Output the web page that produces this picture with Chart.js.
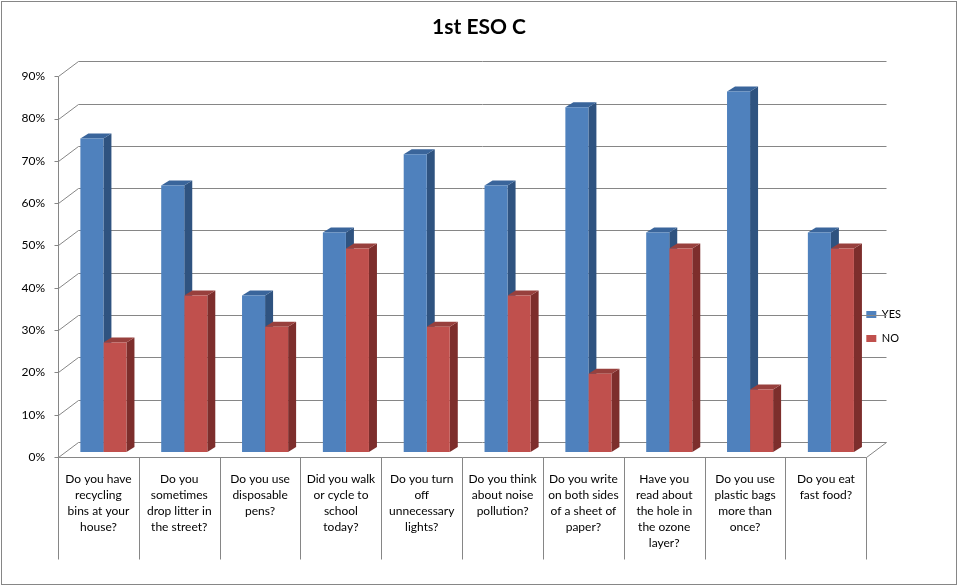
<!DOCTYPE html>
<html><head><meta charset="utf-8">
<style>html,body{margin:0;padding:0;background:#fff}canvas{display:block}</style>
<script src="https://cdn.jsdelivr.net/npm/chart.js@4/dist/chart.umd.js"></script>
</head><body><canvas id="c" width="958" height="586"></canvas>
<script>
const categories=[
 ["Do you have","recycling","bins at your","house?"],
 ["Do you","sometimes","drop litter in","the street?"],
 ["Do you use","disposable","pens?"],
 ["Did you walk","or cycle to","school","today?"],
 ["Do you turn","off","unnecessary","lights?"],
 ["Do you think","about noise","pollution?"],
 ["Do you write","on both sides","of a sheet of","paper?"],
 ["Have you","read about","the hole in","the ozone","layer?"],
 ["Do you use","plastic bags","more than","once?"],
 ["Do you eat","fast food?"]
];
const yesValues=[74.1,63,37,51.9,70.4,63,81.5,51.9,85.2,51.9];
const noValues=[25.9,37,29.6,48.1,29.6,37,18.5,48.1,14.8,48.1];
const FONT='Lato, Carlito, sans-serif';
const GRID='#868686';
const wallDx=20,wallDy=15,barDx=5,barDy=5,sideDx=8,sideDy=5;
const sideColors=[{side:'#2f5380',top:'#3a659b'},{side:'#7d2e2c',top:'#98403d'}];
function poly(ctx,pts,fill){ctx.beginPath();pts.forEach((p,i)=>i?ctx.lineTo(p[0],p[1]):ctx.moveTo(p[0],p[1]));ctx.closePath();ctx.fillStyle=fill;ctx.fill();}
const frame3d={
 id:'frame3d',
 afterLayout(chart){
  const t=chart.titleBlock;t.left=0;t.right=chart.width;
  const l=chart.legend;
  l.left-=13;l.right-=13;l.top+=47;l.bottom+=47;
 },
 beforeDraw(chart){
  const c=chart.ctx,{width,height}=chart;
  c.save();c.strokeStyle=GRID;c.lineWidth=1;c.strokeRect(1.5,1.5,width-3,height-3);c.restore();
 },
 beforeDatasetsDraw(chart){
  const c=chart.ctx,a=chart.chartArea,y=chart.scales.y,x=chart.scales.x;
  c.save();c.strokeStyle=GRID;c.lineWidth=1;
  const L=Math.round(a.left)+.5,R=Math.round(a.right)+.5,B=Math.round(a.bottom)+.5,T=Math.round(a.top)+.5;
  c.beginPath();
  y.ticks.forEach(t=>{
   const p=Math.round(y.getPixelForValue(t.value))+.5;
   c.moveTo(L-4,p);c.lineTo(L,p);c.lineTo(L+wallDx,p-wallDy);c.lineTo(R+wallDx,p-wallDy);
  });
  c.moveTo(L,T);c.lineTo(L,B);c.lineTo(R,B);c.lineTo(R+wallDx,B-wallDy);
  const n=categories.length;
  for(let i=0;i<=n;i++){
   const px=Math.round(x.getPixelForValue(i-.5))+.5;
   c.moveTo(px,B);c.lineTo(px,B+102);
  }
  c.stroke();c.restore();
  c.save();c.translate(barDx,-barDy);
  chart.data.datasets.forEach((d,di)=>{
   chart.getDatasetMeta(di).data.forEach(b=>{
    const l=b.x-b.width/2,r=b.x+b.width/2,t=b.y,bt=b.base,col=sideColors[di];
    poly(c,[[r,t],[r+sideDx,t-sideDy],[r+sideDx,bt-sideDy],[r,bt]],col.side);
    poly(c,[[l,t],[l+sideDx,t-sideDy],[r+sideDx,t-sideDy],[r,t]],col.top);
   });
  });
 },
 afterDatasetsDraw(chart){chart.ctx.restore();}
};
new Chart(document.getElementById('c'),{
 type:'bar',
 data:{labels:categories,datasets:[
  {label:'YES',data:yesValues,backgroundColor:'#4f81bd',clip:false},
  {label:'NO',data:noValues,backgroundColor:'#c0504d',clip:false}
 ]},
 plugins:[frame3d],
 options:{
  responsive:false,animation:false,devicePixelRatio:1,
  layout:{padding:{left:0,right:34,top:0,bottom:27}},
  datasets:{bar:{categoryPercentage:.57,barPercentage:1}},
  scales:{
   x:{grid:{display:false},border:{display:false},
      afterFit(s){s.height=102},
      ticks:{autoSkip:false,maxRotation:0,minRotation:0,padding:6,color:'#000',font:{family:FONT,size:12,lineHeight:16/12}}},
   y:{min:0,max:90,grid:{display:false},border:{display:false},
      afterFit(s){s.width=58},
      ticks:{stepSize:10,padding:5,color:'#000',font:{family:FONT,size:12},callback:v=>v+'%'}}
  },
  plugins:{
   title:{display:true,text:'1st ESO C',color:'#000',font:{family:FONT,size:21,weight:'bold',lineHeight:1.2},padding:{top:15,bottom:36}},
   legend:{position:'right',align:'center',labels:{boxWidth:10,boxHeight:7,padding:13,color:'#000',font:{family:FONT,size:11}}},
   tooltip:{enabled:false}
  }
 }
});
</script></body></html>
